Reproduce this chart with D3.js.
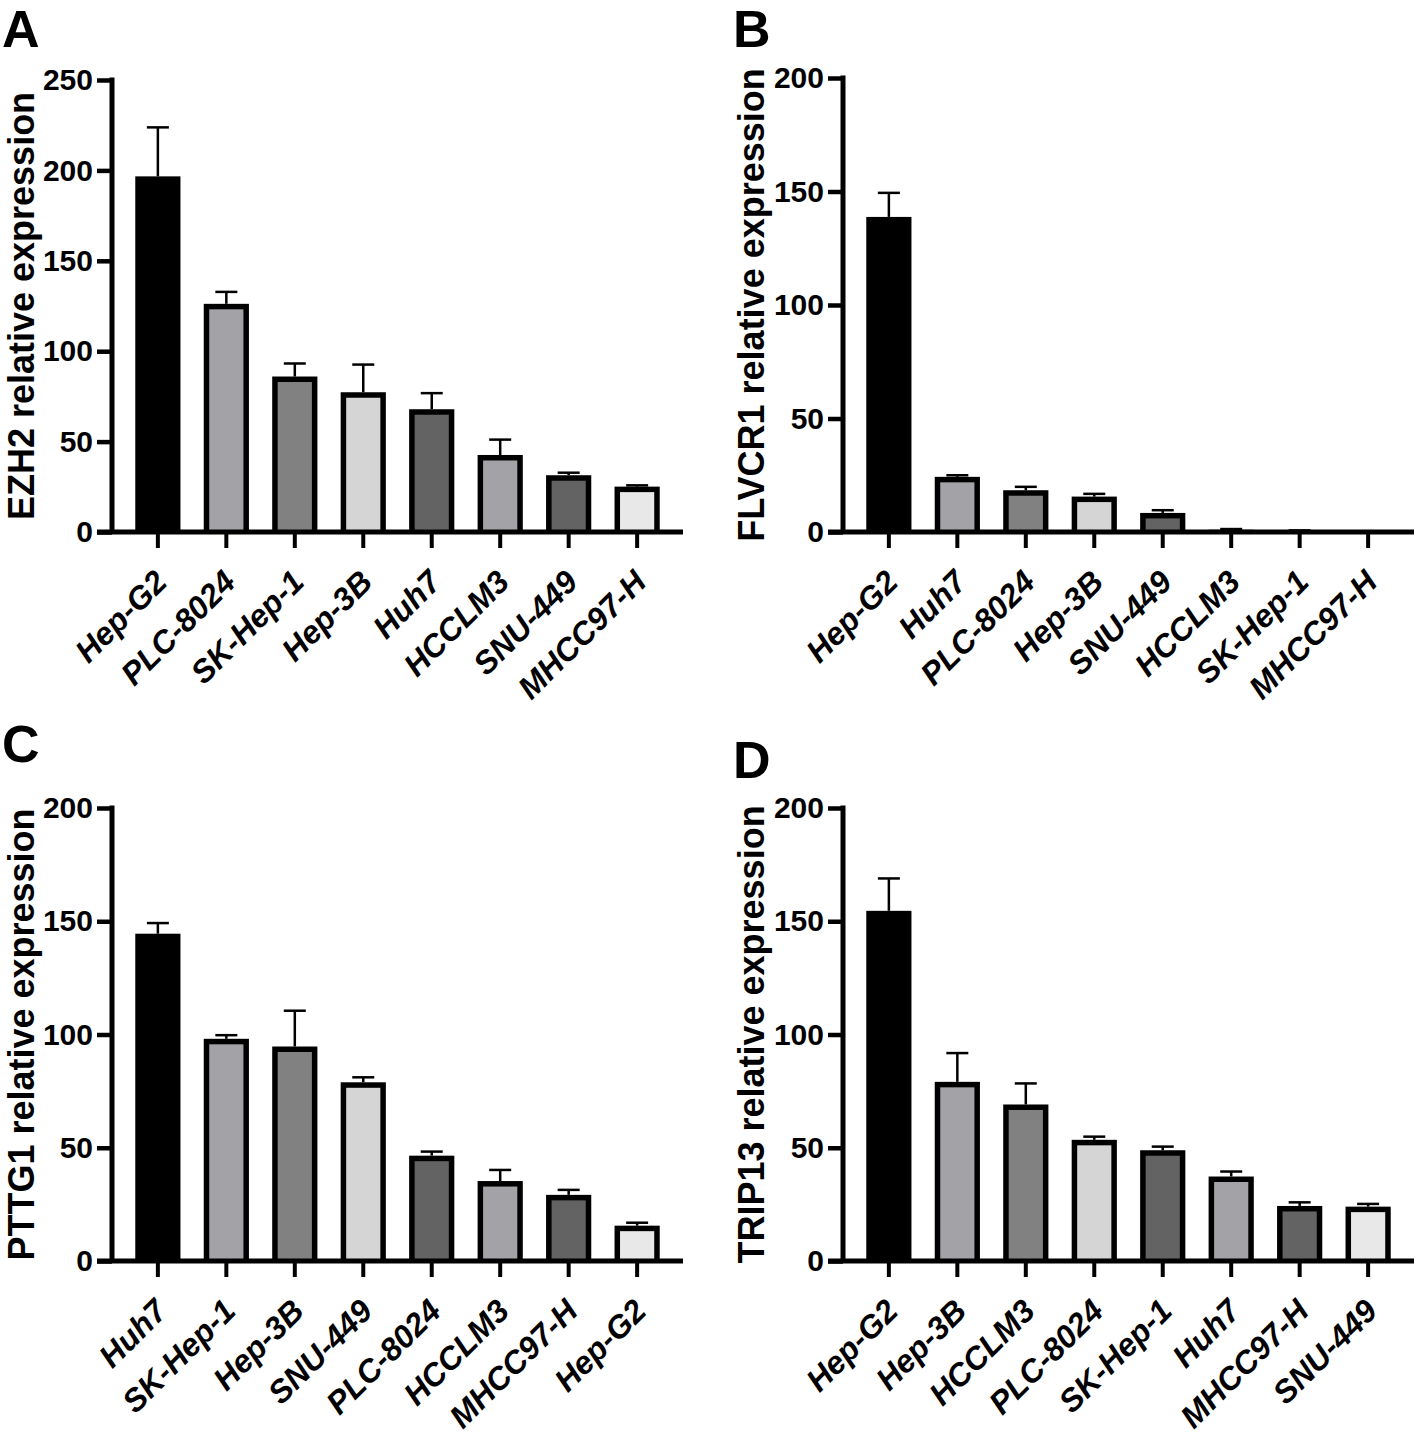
<!DOCTYPE html>
<html>
<head>
<meta charset="utf-8">
<script src="https://cdn.jsdelivr.net/npm/d3@7"></script>
<style>
  body { margin: 0; background: #fff; }
  svg { display: block; font-family: "Liberation Sans", Arial, sans-serif; }
</style>
</head>
<body>
<svg id="fig" width="1416" height="1436"></svg>
<script>
// data (mean and upper SD per cell line)
var catsA = ["Hep-G2", "PLC-8024", "SK-Hep-1", "Hep-3B", "Huh7", "HCCLM3", "SNU-449", "MHCC97-H"];
var meanA = [196.7, 126.2, 86.0, 77.3, 67.9, 42.6, 31.4, 25.1];
var sdA = [27.1, 6.6, 7.2, 15.3, 8.9, 8.5, 1.4, 0.7];

var catsB = ["Hep-G2", "Huh7", "PLC-8024", "Hep-3B", "SNU-449", "HCCLM3", "SK-Hep-1", "MHCC97-H"];
var meanB = [138.8, 24.3, 18.4, 15.6, 8.4, 1.0, 0.5, 0.2];
var sdB = [10.6, 0.7, 1.5, 1.2, 1.2, 0.3, 0.2, 0.05];

var catsC = ["Huh7", "SK-Hep-1", "Hep-3B", "SNU-449", "PLC-8024", "HCCLM3", "MHCC97-H", "Hep-G2"];
var meanC = [144.5, 98.1, 94.7, 78.9, 46.5, 35.3, 29.2, 15.6];
var sdC = [4.7, 1.6, 15.8, 2.2, 1.8, 4.9, 2.2, 1.3];

var catsD = ["Hep-G2", "Hep-3B", "HCCLM3", "PLC-8024", "SK-Hep-1", "Huh7", "MHCC97-H", "SNU-449"];
var meanD = [154.6, 79.1, 69.1, 53.5, 48.9, 37.3, 24.3, 24.0];
var sdD = [14.3, 12.7, 9.3, 1.4, 1.6, 2.2, 1.6, 1.2];

var ticksA = [0, 50, 100, 150, 200, 250];
var ticksBCD = [0, 50, 100, 150, 200];

var titles = ["EZH2 relative expression", "FLVCR1 relative expression",
              "PTTG1 relative expression", "TRIP13 relative expression"];
var letters = ["A", "B", "C", "D"];

// fill by bar position (same sequence in every panel)
var fills = ["#000000", "#a3a2a7", "#818181", "#d5d5d5", "#636363", "#a3a2a7", "#636363", "#e8e8e8"];

var panels = [
  { cats: catsA, mean: meanA, sd: sdA, ticks: ticksA, max: 250, title: titles[0], letter: letters[0],
    x0: 112, x1: 683, yTop: 80, yBot: 532, lx: 2, ly: 47, tx: 34 },
  { cats: catsB, mean: meanB, sd: sdB, ticks: ticksBCD, max: 200, title: titles[1], letter: letters[1],
    x0: 843, x1: 1414, yTop: 78, yBot: 532, lx: 733, ly: 47, tx: 764 },
  { cats: catsC, mean: meanC, sd: sdC, ticks: ticksBCD, max: 200, title: titles[2], letter: letters[2],
    x0: 112, x1: 683, yTop: 808, yBot: 1261, lx: 2, ly: 762, tx: 34 },
  { cats: catsD, mean: meanD, sd: sdD, ticks: ticksBCD, max: 200, title: titles[3], letter: letters[3],
    x0: 843, x1: 1414, yTop: 808, yBot: 1261, lx: 733, ly: 778, tx: 764 }
];

var svg = d3.select("#fig");
var AXW = 5, BORDER = 5.5, TICK = 15;

panels.forEach(function (p) {
  var g = svg.append("g");

  var x = d3.scaleBand().domain(p.cats).range([p.x0, p.x1])
    .paddingInner(0.34).paddingOuter(0.34);
  var y = d3.scaleLinear().domain([0, p.max]).range([p.yBot, p.yTop]);

  var rows = p.cats.map(function (c, i) { return { cat: c, mean: p.mean[i], sd: p.sd[i], i: i }; });

  // bars: black outer box, fill inset by the border
  var bars = g.append("g").selectAll("g").data(rows).enter().append("g");
  bars.append("rect")
    .attr("x", function (d) { return x(d.cat); })
    .attr("y", function (d) { return y(d.mean); })
    .attr("width", x.bandwidth())
    .attr("height", function (d) { return y(0) - y(d.mean); })
    .attr("fill", "#000");
  bars.append("rect")
    .attr("x", function (d) { return x(d.cat) + BORDER; })
    .attr("y", function (d) { return y(d.mean) + BORDER; })
    .attr("width", x.bandwidth() - 2 * BORDER)
    .attr("height", function (d) { return Math.max(0, y(0) - y(d.mean) - BORDER); })
    .attr("fill", function (d) { return fills[d.i]; });

  // upper error bars
  var err = g.append("g").attr("stroke", "#000").attr("stroke-width", 2.5);
  err.selectAll("line.v").data(rows).enter().append("line")
    .attr("class", "v")
    .attr("x1", function (d) { return x(d.cat) + x.bandwidth() / 2; })
    .attr("x2", function (d) { return x(d.cat) + x.bandwidth() / 2; })
    .attr("y1", function (d) { return y(d.mean); })
    .attr("y2", function (d) { return y(d.mean + d.sd); });
  err.selectAll("line.c").data(rows).enter().append("line")
    .attr("class", "c")
    .attr("x1", function (d) { return x(d.cat) + x.bandwidth() / 2 - 11; })
    .attr("x2", function (d) { return x(d.cat) + x.bandwidth() / 2 + 11; })
    .attr("y1", function (d) { return y(d.mean + d.sd); })
    .attr("y2", function (d) { return y(d.mean + d.sd); });

  // y axis
  var yAx = g.append("g").attr("transform", "translate(" + p.x0 + ",0)")
    .call(d3.axisLeft(y).tickValues(p.ticks).tickSize(TICK).tickSizeOuter(0).tickPadding(4));
  yAx.select(".domain").attr("stroke-width", AXW)
    .attr("d", "M0," + (p.yTop - AXW / 2) + "V" + p.yBot);
  yAx.selectAll(".tick line").attr("stroke-width", 4.5);
  yAx.selectAll(".tick text")
    .attr("font-size", 30).attr("font-weight", "bold").attr("fill", "#000")
    .attr("font-family", "'Liberation Sans', Arial, sans-serif");

  // x axis
  var xAx = g.append("g").attr("transform", "translate(0," + p.yBot + ")")
    .call(d3.axisBottom(x).tickSize(16).tickSizeOuter(0).tickFormat(""));
  xAx.select(".domain").attr("stroke-width", AXW)
    .attr("d", "M" + (p.x0 - TICK) + ",0H" + p.x1);
  xAx.selectAll(".tick line").attr("stroke-width", 4);

  // rotated category labels
  g.append("g").selectAll("text").data(p.cats).enter().append("text")
    .attr("transform", function (d) {
      return "translate(" + (x(d) + x.bandwidth() / 2 + 11) + "," + (p.yBot + 52) + ") rotate(-45)";
    })
    .attr("text-anchor", "end")
    .attr("font-size", 32)
    .attr("font-weight", "bold")
    .attr("font-style", "italic")
    .text(function (d) { return d; });

  // y title
  g.append("text")
    .attr("transform", "translate(" + p.tx + "," + ((p.yTop + p.yBot) / 2) + ") rotate(-90)")
    .attr("text-anchor", "middle")
    .attr("font-size", 36)
    .attr("font-weight", "bold")
    .text(p.title);

  // panel letter
  g.append("text")
    .attr("x", p.lx).attr("y", p.ly)
    .attr("font-size", 52)
    .attr("font-weight", "bold")
    .text(p.letter);
});
</script>
</body>
</html>
